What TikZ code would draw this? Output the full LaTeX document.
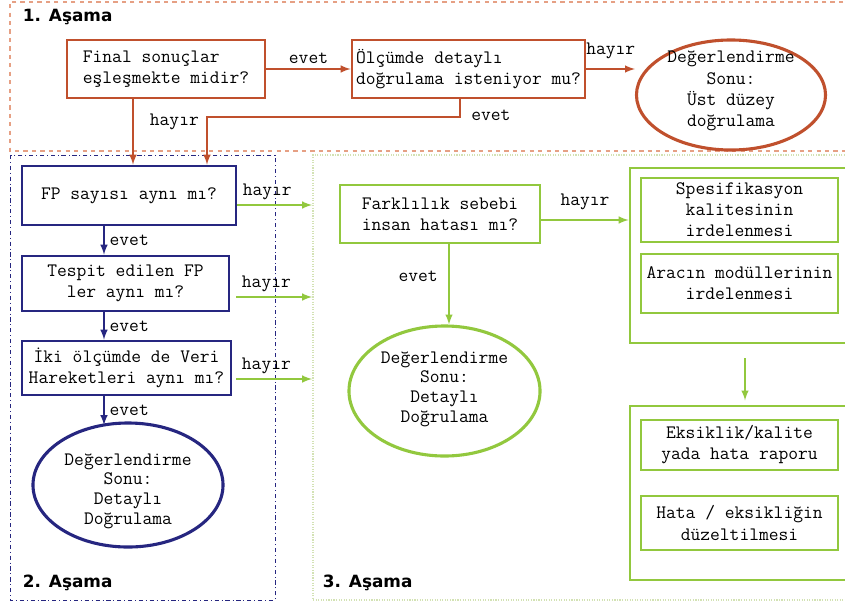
\documentclass[tikz,border=0pt]{standalone}
\usepackage{fontspec}
\newfontfamily\headfont{DejaVu Sans}
\usetikzlibrary{shapes.geometric}
\definecolor{redc}{HTML}{C0502D}
\definecolor{redframe}{HTML}{E6A084}
\definecolor{navyc}{HTML}{262680}
\definecolor{greenc}{HTML}{92C83E}
\definecolor{greenframe}{HTML}{D3E2B4}
\begin{document}
\begin{tikzpicture}[x=0.025cm,y=-0.025cm,
    every node/.style={font=\ttfamily\fontsize{13.5}{15}\selectfont},
    box/.style={draw,line width=2pt,inner sep=1pt,align=center},
    oval/.style={draw,ellipse,line width=2.2pt,inner sep=0pt},
    arr/.style={line width=1.4pt,-latex},
    stagehead/.style={anchor=west,font=\headfont\bfseries\fontsize{12}{14}\selectfont}]
        \clip (0,0) rectangle (845,604);
        \fill[white] (0,0) rectangle (845,604);

        % stage frames
        \draw[redframe,line width=0.8pt,dashed] (860,2) -- (10,2) -- (10,151) -- (860,151);
        \draw[navyc,line width=0.7pt,dash dot] (10,155) rectangle (275,600);
        \draw[greenframe,line width=0.8pt,densely dotted] (860,155) -- (313,155) -- (313,600) -- (860,600);
        \node[stagehead] (S1) at (18,17) {1. Aşama};
        \node[stagehead] (S2) at (18,583) {2. Aşama};
        \node[stagehead] (S3) at (318,583) {3. Aşama};

        % 1. asama
        \node[box,redc,text=black,align=left,minimum width=4.95cm,minimum height=1.45cm] (A) at (166,69) {Final sonuçlar\\eşleşmekte midir?};
        \node[box,redc,text=black,align=left,minimum width=5.825cm,minimum height=1.45cm] (B) at (468.5,69) {Ölçümde detaylı\\doğrulama isteniyor mu?};
        \node[oval,redc,minimum width=4.725cm,minimum height=2.75cm] (C) at (731,95) {};
        \node[align=center] (Ct) at (731,91) {Değerlendirme\\Sonu:\\Üst düzey\\doğrulama};

        % 2. asama
        \node[box,navyc,text=black,minimum width=5.35cm,minimum height=1.475cm] (D) at (129,195.5) {FP sayısı aynı mı?};
        \node[box,navyc,text=black,minimum width=5.175cm,minimum height=1.375cm] (E) at (125.5,283.5) {Tespit edilen FP\\ler aynı mı?};
        \node[box,navyc,text=black,minimum width=5.225cm,minimum height=1.35cm] (F) at (126.5,368) {İki ölçümde de Veri\\Hareketleri aynı mı?};
        \node[oval,navyc,minimum width=4.75cm,minimum height=3.1cm] (G) at (128,485) {};
        \node[align=center,font=\ttfamily\fontsize{13.5}{14}\selectfont] (Gt) at (128,491) {Değerlendirme\\Sonu:\\Detaylı\\Doğrulama};

        % 3. asama
        \node[box,greenc,text=black,minimum width=5cm,minimum height=1.45cm] (H) at (440,214) {Farklılık sebebi\\insan hatası mı?};
        \node[oval,greenc,minimum width=4.775cm,minimum height=3.25cm] (I) at (444.5,391) {};
        \node[align=center,font=\ttfamily\fontsize{13.5}{14}\selectfont] (It) at (444.5,389) {Değerlendirme\\Sonu:\\Detaylı\\Doğrulama};
        \node[box,greenc,minimum width=5.75cm,minimum height=4.375cm] (J) at (745,255.5) {};
        \node[box,greenc,text=black,minimum width=4.925cm,minimum height=1.6cm] (K) at (739.5,210) {Spesifikasyon\\kalitesinin\\irdelenmesi};
        \node[box,greenc,text=black,minimum width=4.925cm,minimum height=1.475cm] (L) at (739.5,283.5) {Aracın modüllerinin\\irdelenmesi};
        \node[box,greenc,minimum width=5.75cm,minimum height=4.35cm] (M) at (745,493) {};
        \node[box,greenc,text=black,minimum width=4.925cm,minimum height=1.25cm] (N) at (739.5,445) {Eksiklik/kalite\\yada hata raporu};
        \node[box,greenc,text=black,minimum width=4.925cm,minimum height=1.35cm] (O) at (739.5,523) {Hata / eksikliğin\\düzeltilmesi};

        \draw[arr,redc] (A) to node[above,text=black] {evet} (B);
        \draw[arr,redc] (B.east) to node[above=3pt,text=black] {hayır} (B.east -| C.west);
        \draw[arr,redc] (A.south -| 133,0) to node[right=8pt,pos=0.35,text=black] {hayır} (D.north -| 133,0);
        \draw[arr,redc] (B.south -| 460,0) -- node[right=4pt,pos=0.9,text=black] {evet} (460,117) -| (D.north -| 207,0);

        \draw[arr,navyc] (D.south -| 104,0) to node[right,text=black] {evet} (E.north -| 104,0);
        \draw[arr,navyc] (E.south -| 104,0) to node[right,text=black] {evet} (F.north -| 104,0);
        \draw[arr,navyc] (F.south -| 104,0) to node[right,text=black] {evet} (104,425);

        \coordinate (s3a) at (312,205);
        \coordinate (s3b) at (312,297);
        \coordinate (s3c) at (312,379);
        \draw[arr,greenc] (D.east |- s3a) to node[above,pos=0.4,text=black] {hayır} (s3a);
        \draw[arr,greenc] (236,297) to node[above,pos=0.4,text=black] {hayır} (s3b);
        \draw[arr,greenc] (236,379) to node[above,pos=0.4,text=black] {hayır} (s3c);
        \draw[arr,greenc] (H.east |- 0,220) to node[above=3pt,text=black] {hayır} (J.west |- 0,220);
        \draw[arr,greenc] (H.south -| 449,0) to node[left=4pt,pos=0.4,text=black] {evet} (I.north -| 449,0);
        \draw[arr,greenc,shorten <=10pt,shorten >=3pt] (J.south) to (M.north);
\end{tikzpicture}
\end{document}
